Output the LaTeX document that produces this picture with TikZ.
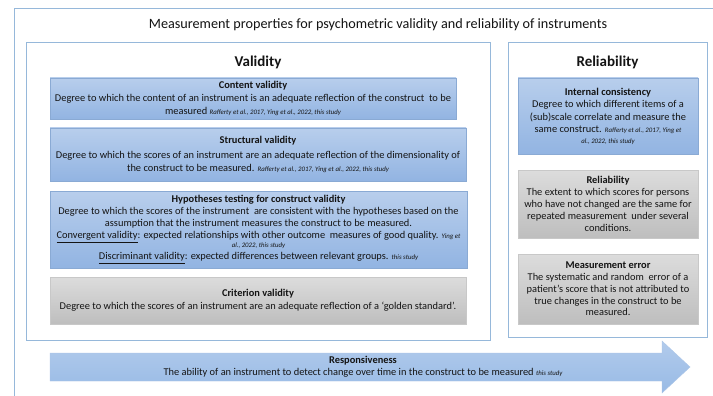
\documentclass[tikz,border=0pt]{standalone}
\usepackage{fontspec}
\setmainfont{Carlito}
\usetikzlibrary{shadows}

\definecolor{framecol}{RGB}{150,184,218}
\definecolor{blueTop}{RGB}{184,206,236}
\definecolor{blueBot}{RGB}{146,180,226}
\definecolor{blueEdge}{RGB}{138,170,212}
\definecolor{grayTop}{RGB}{220,220,220}
\definecolor{grayBot}{RGB}{190,190,190}
\definecolor{grayEdge}{RGB}{200,200,200}
\definecolor{arrowTop}{RGB}{178,203,236}
\definecolor{arrowBot}{RGB}{152,186,229}
\definecolor{txt}{RGB}{20,20,20}

\newcommand\citetxt[1]{{\fontsize{6.8}{8}\selectfont\itshape #1}}

\tikzset{
  container/.style={draw=framecol, line width=0.8pt},
  panelhead/.style={font=\fontsize{15}{18}\selectfont\bfseries, text=txt},
  infobox/.style={rectangle, align=center, text=txt, inner sep=1pt,
    font=\fontsize{10.4}{12.6}\selectfont,
    drop shadow={shadow xshift=0.4pt, shadow yshift=-1.4pt, opacity=0.22}},
  bluebox/.style={infobox, draw=blueEdge, line width=0.5pt, top color=blueTop, bottom color=blueBot},
  graybox/.style={infobox, draw=grayEdge, line width=0.5pt, top color=grayTop, bottom color=grayBot},
}

\begin{document}
\begin{tikzpicture}[x=1pt, y=-1pt]
\useasboundingbox (0,0) rectangle (713,396);
\clip (0,0) rectangle (713,396);
\fill[white] (0,0) rectangle (713,396);

% outer frame, running past the right and bottom edges
\draw[container] (14,8) rectangle (730,410);
\node[font=\fontsize{14.2}{17}\selectfont, text=txt] (title) at (378,25)
  {Measurement properties for psychometric validity and reliability of instruments};

% Validity panel
\draw[container] (26,42) rectangle (490,340);
\node[panelhead] (valhead) at (258,62) {Validity};

\node[bluebox, minimum width=406pt, minimum height=41pt] (content) at (253,98.5)
  {\textbf{Content validity}\\
   Degree to which the content of an instrument is an adequate reflection of the construct \ to be\\
   measured \citetxt{Rafferty et al., 2017, Ying et al., 2022, this study}};

\node[bluebox, minimum width=416pt, minimum height=53pt] (struct) at (258,154.5)
  {\textbf{Structural validity}\\[2pt]
   Degree to which the scores of an instrument are an adequate reflection of the dimensionality of\\
   the construct to be measured. \citetxt{Rafferty et al., 2017, Ying et al., 2022, this study}};

\node[bluebox, minimum width=417pt, minimum height=77pt,
      font=\fontsize{10.4}{11.9}\selectfont] (hypo) at (258.5,229.5)
  {\textbf{Hypotheses testing for construct validity}\\
   Degree to which the scores of the instrument \ are consistent with the hypotheses based on the\\
   assumption that the instrument measures the construct to be measured.\\
   \underline{Convergent validity}: expected relationships with other outcome \ measures of good quality. \citetxt{Ying et}\\[-2.5pt]
   \citetxt{al., 2022, this study}\\
   \underline{Discriminant validity}: expected differences between relevant groups. \citetxt{this study}};

\node[graybox, minimum width=416pt, minimum height=47pt] (crit) at (258,300.5)
  {\textbf{Criterion validity}\\
   Degree to which the scores of an instrument are an adequate reflection of a `golden standard'.};

% Reliability panel
\draw[container] (508,42) rectangle (707,337);
\node[panelhead] (relhead) at (607.5,62) {Reliability};

\node[bluebox, minimum width=180pt, minimum height=76pt] (intcons) at (608,116)
  {\textbf{Internal consistency}\\
   Degree to which different items of a\\
   (sub)scale correlate and measure the\\
   same construct. \citetxt{Rafferty et al., 2017, Ying et}\\[-2.5pt]
   \citetxt{al., 2022, this study}};

\node[graybox, minimum width=180pt, minimum height=68pt, font=\fontsize{10.4}{12}\selectfont] (relia) at (608,204)
  {\textbf{Reliability}\\
   The extent to which scores for persons\\
   who have not changed are the same for\\
   repeated measurement \ under several\\
   conditions.};

\node[graybox, minimum width=180pt, minimum height=70pt, font=\fontsize{10.4}{11.7}\selectfont] (merr) at (608,289)
  {\textbf{Measurement error}\\
   The systematic and random \ error of a\\
   patient's score that is not attributed to\\
   true changes in the construct to be\\
   measured.};

% Responsiveness arrow across the bottom
\coordinate (arrL) at (50,367);
\coordinate (arrTip) at (690,367);
\path[top color=arrowTop, bottom color=arrowBot, draw=arrowTop!85!blueEdge, line width=0.4pt]
  (50,353) -- (662,353) -- (662,341) -- (arrTip) -- (662,393) -- (662,381) -- (50,381) -- cycle;
\node[align=center, text=txt, font=\fontsize{10.4}{12}\selectfont, inner sep=0pt] (resp) at (363,367)
  {\textbf{Responsiveness}\\
   The ability of an instrument to detect change over time in the construct to be measured \citetxt{this study}};
\end{tikzpicture}
\end{document}
